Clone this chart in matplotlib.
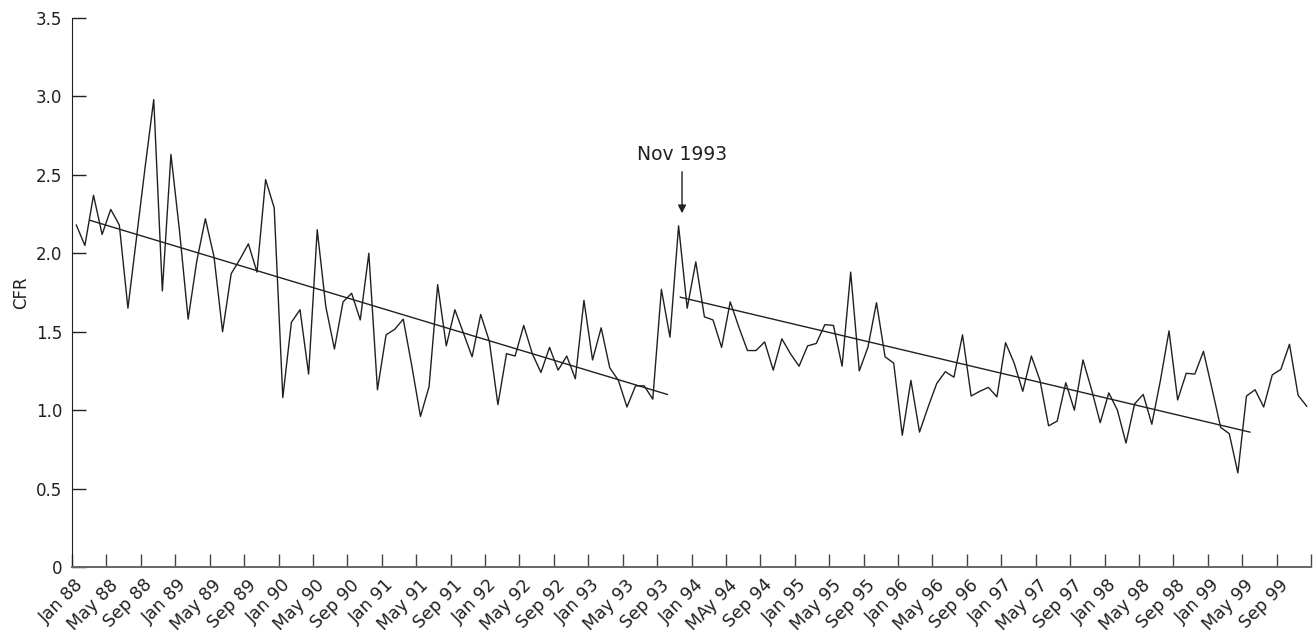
import numpy as np
import matplotlib
matplotlib.use("Agg")
import matplotlib.pyplot as plt
from matplotlib.transforms import ScaledTranslation

# monthly case fatality rate, Jan 1988 .. Dec 1999
cfr = [
    2.18, 2.05, 2.37, 2.12, 2.28, 2.18, 1.65, 2.10, 2.55, 2.98, 1.76, 2.63,
    2.14, 1.58, 1.95, 2.22, 1.98, 1.50, 1.87, 1.96, 2.06, 1.88, 2.47, 2.29,
    1.08, 1.56, 1.64, 1.23, 2.15, 1.66, 1.39, 1.69, 1.745, 1.575, 2.00, 1.13,
    1.48, 1.515, 1.58, 1.28, 0.96, 1.15, 1.80, 1.41, 1.64, 1.49, 1.34, 1.61,
    1.44, 1.035, 1.36, 1.345, 1.54, 1.36, 1.24, 1.40, 1.255, 1.345, 1.20, 1.70,
    1.32, 1.525, 1.27, 1.19, 1.02, 1.155, 1.155, 1.07, 1.77, 1.465, 2.175, 1.65,
    1.945, 1.595, 1.575, 1.40, 1.69, 1.53, 1.38, 1.38, 1.435, 1.255, 1.455, 1.36,
    1.28, 1.41, 1.425, 1.545, 1.54, 1.28, 1.88, 1.25, 1.40, 1.685, 1.34, 1.30,
    0.84, 1.19, 0.86, 1.02, 1.17, 1.245, 1.21, 1.48, 1.09, 1.12, 1.145, 1.085,
    1.43, 1.30, 1.12, 1.345, 1.19, 0.90, 0.93, 1.175, 1.00, 1.32, 1.13, 0.92,
    1.11, 1.00, 0.79, 1.04, 1.10, 0.91, 1.19, 1.505, 1.065, 1.235, 1.23, 1.375,
    1.135, 0.89, 0.85, 0.60, 1.09, 1.13, 1.02, 1.225, 1.26, 1.42, 1.095, 1.025,
]

# fitted trends before / after Nov 1993 (months since Jan 88, CFR)
trend1_x = [2.1, 69.2]
trend1_y = [2.21, 1.10]
trend2_x = [70.7, 136.9]
trend2_y = [1.72, 0.86]

tick_labels = [
    "Jan 88", "May 88", "Sep 88", "Jan 89", "May 89", "Sep 89",
    "Jan 90", "May 90", "Sep 90", "Jan 91", "May 91", "Sep 91",
    "Jan 92", "May 92", "Sep 92", "Jan 93", "May 93", "Sep 93",
    "Jan 94", "MAy 94", "Sep 94", "Jan 95", "May 95", "Sep 95",
    "Jan 96", "May 96", "Sep 96", "Jan 97", "May 97", "Sep 97",
    "Jan 98", "May 98", "Sep 98", "Jan 99", "May 99", "Sep 99", "",
]
y_ticks = [0, 0.5, 1.0, 1.5, 2.0, 2.5, 3.0, 3.5]
y_labels = ["0", "0.5", "1.0", "1.5", "2.0", "2.5", "3.0", "3.5"]

ink = "#231f20"
plt.rcParams["font.family"] = ["DejaVu Sans"]

fig = plt.figure(figsize=(13.13, 6.32), dpi=100)
ax = fig.add_axes([72 / 1313, 65 / 632, 1239 / 1313, 549 / 632])

months = np.arange(len(cfr)) + 0.5
ax.plot(months, cfr, color=ink, lw=1.0)
ax.plot(trend1_x, trend1_y, color=ink, lw=1.0)
ax.plot(trend2_x, trend2_y, color=ink, lw=1.0)

ax.text(70.9, 2.63, "Nov 1993", ha="center", va="center", fontsize=13.5, color=ink)
ax.annotate("", xy=(70.9, 2.255), xytext=(70.9, 2.52),
            arrowprops=dict(arrowstyle="-|>", color=ink, lw=1.0,
                            mutation_scale=12, shrinkA=0, shrinkB=0))

ax.set_xlim(0, 144)
ax.set_ylim(0, 3.5)
ax.set_xticks(np.arange(0, 145, 4))
ax.set_xticklabels(tick_labels, rotation=45, ha="right", va="center",
                   rotation_mode="anchor", fontsize=12.5, color=ink)
ax.set_yticks(y_ticks)
ax.set_yticklabels(y_labels, fontsize=12, color=ink)
ax.tick_params(axis="x", direction="in", length=9.5, width=1.0, colors="#444444",
               labelcolor=ink, pad=11)
ax.tick_params(axis="y", direction="in", length=10, width=1.0, colors=ink, pad=7)

off = ScaledTranslation(9 / 100, 0, fig.dpi_scale_trans)
for lab in ax.get_xticklabels():
    lab.set_transform(lab.get_transform() + off)

ax.set_ylabel("CFR", fontsize=12, color=ink, labelpad=4)

for s in ["top", "right"]:
    ax.spines[s].set_visible(False)
ax.spines["left"].set_color(ink)
ax.spines["bottom"].set_color("#666666")
ax.spines["bottom"].set_linewidth(1.4)

fig.savefig("out.png", dpi=100)
